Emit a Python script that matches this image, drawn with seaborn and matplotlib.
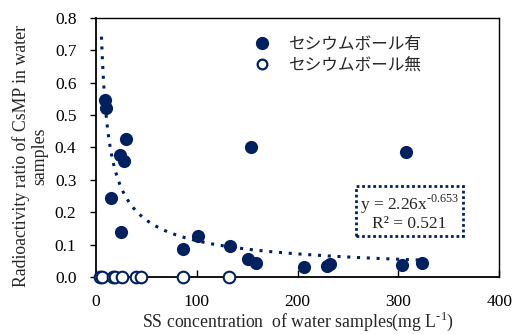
import numpy as np
import pandas as pd
import matplotlib
matplotlib.use("Agg")
import matplotlib.pyplot as plt
import seaborn as sns

# data
with_x = [9, 10, 30, 24, 28, 15, 25, 86, 101, 133, 151, 159, 154, 308, 206, 229, 232, 304, 323]
with_y = [0.546, 0.522, 0.426, 0.377, 0.358, 0.243, 0.138, 0.085, 0.125, 0.096, 0.054, 0.042, 0.402, 0.386, 0.030, 0.034, 0.040, 0.038, 0.044]
without_x = [4, 6, 17, 19, 26, 40, 45, 86, 132]
without_y = [0, 0, 0, 0, 0, 0, 0, 0, 0]
label_with = "セシウムボール有"
label_without = "セシウムボール無"
fit_a, fit_b = 2.26, -0.653
fit_range = [5.5, 320]
xticks = [0, 100, 200, 300, 400]
yticks = [0.0, 0.1, 0.2, 0.3, 0.4, 0.5, 0.6, 0.7, 0.8]

sns.set_theme(style="white")
plt.rcParams['font.family'] = ['Liberation Serif', 'Noto Sans CJK JP', 'DejaVu Sans']
plt.rcParams['mathtext.fontset'] = 'custom'
plt.rcParams['mathtext.rm'] = 'Liberation Serif'

navy = "#002060"
fig = plt.figure(figsize=(5.13, 3.34), dpi=100)
ax = fig.add_axes([0.187, 0.171, 0.786, 0.775])

df_with = pd.DataFrame({"x": with_x, "y": with_y})
df_without = pd.DataFrame({"x": without_x, "y": without_y})

xf = np.linspace(fit_range[0], fit_range[1], 400)
yf = fit_a * xf ** fit_b
ax.plot(xf, yf, linestyle=(0, (1, 2.2)), color=navy, lw=2.2, zorder=3)

sns.scatterplot(data=df_with, x="x", y="y", ax=ax, color=navy, s=90,
                edgecolor=navy, linewidth=0, zorder=4, legend=False, clip_on=False)
sns.scatterplot(data=df_without, x="x", y="y", ax=ax, facecolor="white", s=70,
                edgecolor=navy, linewidth=1.5, zorder=5, legend=False, clip_on=False)

ax.set_xlim(0, 400)
ax.set_ylim(0, 0.8)
ax.set_xticks(xticks)
ax.set_xticklabels([str(t) for t in xticks])
ax.set_yticks(yticks)
ax.set_yticklabels([f"{t:.1f}" for t in yticks])
for s in ax.spines.values():
    s.set_color("black")
    s.set_linewidth(1.0)
ax.spines['left'].set_linewidth(1.3)
ax.spines['bottom'].set_linewidth(1.3)
ax.tick_params(axis='x', direction='in', length=5, width=1, labelsize=12.5, pad=12, colors='black')
ax.tick_params(axis='y', direction='out', length=4, width=1, labelsize=12.5, pad=10, colors='black')
ax.tick_params(bottom=True, left=True)

ax.set_xlabel("SS concentration  of water samples(mg L$^{\\text{-1}}$)", fontsize=12.8)
ax.xaxis.set_label_coords(0.5, -0.128)
ax.set_ylabel("Radioactivity ratio of CsMP in water\nsamples", fontsize=12.8, linespacing=1.1)
ax.yaxis.set_label_coords(-0.118, 0.467)

from matplotlib.lines import Line2D
handles = [Line2D([], [], marker='o', linestyle='', color=navy, markersize=8.5),
           Line2D([], [], marker='o', linestyle='', markerfacecolor='white',
                  markeredgecolor=navy, markeredgewidth=1.6, markersize=7)]
leg = ax.legend(handles, [label_with, label_without], loc='upper left',
                bbox_to_anchor=(0.35, 0.99), frameon=False, handletextpad=1.0,
                handlelength=1.2, labelspacing=0.25,
                prop={'family': ['Noto Sans CJK JP'], 'size': 12})

ax.text(0.778, 0.249, "y = 2.26x$^{\\text{-0.653}}$\nR² = 0.521", transform=ax.transAxes,
        ha='center', va='center', fontsize=12.5, linespacing=1.05,
        bbox=dict(boxstyle='square,pad=0.22', facecolor='white', edgecolor=navy,
                  linestyle=(0, (1, 1)), linewidth=2))

fig.savefig("out.png", dpi=100)
